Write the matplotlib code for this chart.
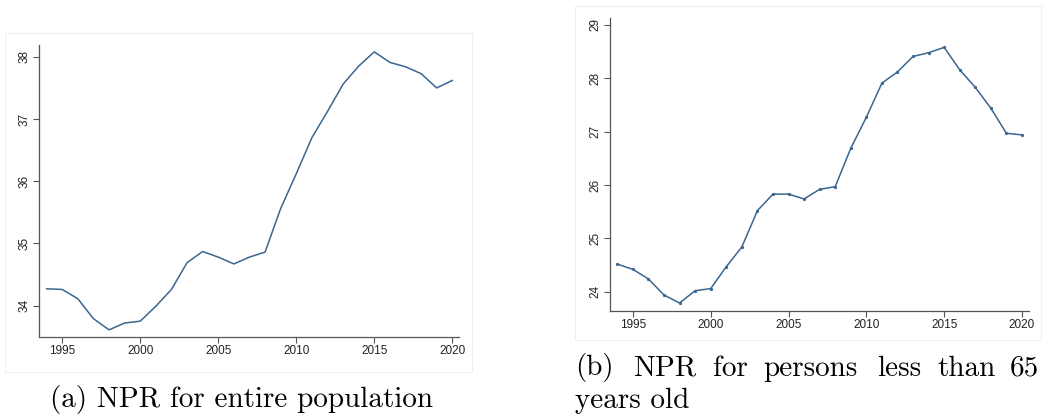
import matplotlib
matplotlib.use("Agg")
import matplotlib.pyplot as plt
from matplotlib.patches import Rectangle

years = list(range(1994, 2021))
npr_all = [34.27, 34.26, 34.11, 33.79, 33.61, 33.72, 33.75, 33.99, 34.26, 34.69,
           34.87, 34.78, 34.67, 34.78, 34.86, 35.56, 36.12, 36.70, 37.12, 37.56,
           37.85, 38.08, 37.91, 37.84, 37.73, 37.50, 37.62]
npr_u65 = [24.52, 24.42, 24.24, 23.94, 23.79, 24.02, 24.06, 24.47, 24.84, 25.52,
           25.83, 25.83, 25.74, 25.92, 25.97, 26.69, 27.27, 27.91, 28.12, 28.41,
           28.48, 28.58, 28.16, 27.83, 27.44, 26.97, 26.94]
xticks = [1995, 2000, 2005, 2010, 2015, 2020]
yticks_a = [34, 35, 36, 37, 38]
yticks_b = [24, 25, 26, 27, 28, 29]

W, H = 1042, 415
fig = plt.figure(figsize=(W / 100, H / 100), dpi=100)

def fx(px):
    return px / W

def fy(py):
    return 1 - py / H

# faint frames around each graph
fig.patches.append(Rectangle((fx(5), fy(371.7)), fx(467), (371.7 - 32.7) / H,
                             transform=fig.transFigure, fill=False,
                             edgecolor="#f0f0f0", linewidth=0.8))
fig.patches.append(Rectangle((fx(575), fy(340)), fx(466), (340 - 6) / H,
                             transform=fig.transFigure, fill=False,
                             edgecolor="#f0f0f0", linewidth=0.8))

line_color = "#3a6690"
axis_color = "#555555"
tick_font = dict(family="Liberation Sans", size=8.5, color="#222222")

def style(ax, yticks, ylim):
    ax.set_xlim(1993.53, 2020.45)
    ax.set_ylim(*ylim)
    ax.set_xticks(xticks)
    ax.set_yticks(yticks)
    for s in ["top", "right"]:
        ax.spines[s].set_visible(False)
    for s in ["left", "bottom"]:
        ax.spines[s].set_color(axis_color)
        ax.spines[s].set_linewidth(0.9)
    ax.tick_params(axis="both", length=4, width=0.8, color=axis_color, pad=2)
    ax.set_xticklabels([str(t) for t in xticks], fontdict=tick_font)
    ax.set_yticklabels([str(t) for t in yticks], fontdict=tick_font,
                       rotation=90, va="center")

ax1 = fig.add_axes([fx(39.3), fy(336.7), fx(420), 291.7 / H])
ax1.plot(years, npr_all, color=line_color, linewidth=1.1)
style(ax1, yticks_a, (33.50, 38.19))

ax2 = fig.add_axes([fx(610), fy(311), fx(419), 292.7 / H])
ax2.plot(years, npr_u65, color=line_color, linewidth=1.1, marker="o",
         markersize=1.3)
style(ax2, yticks_b, (23.64, 29.125))

cap = dict(family="cmr10", size=21, color="black")
fig.text(fx(50), fy(407), "(a) NPR for entire population", ha="left",
         va="baseline", **cap)

words = ["(b)", "NPR", "for", "persons", "less", "than", "65"]
word_x = [575, 633, 713, 763, 877, 937, 1010]
for w, x in zip(words, word_x):
    fig.text(fx(x), fy(375.5), w, ha="left", va="baseline", **cap)
fig.text(fx(575), fy(407.5), "years old", ha="left", va="baseline", **cap)

fig.savefig("out.png", dpi=100, facecolor="white")
